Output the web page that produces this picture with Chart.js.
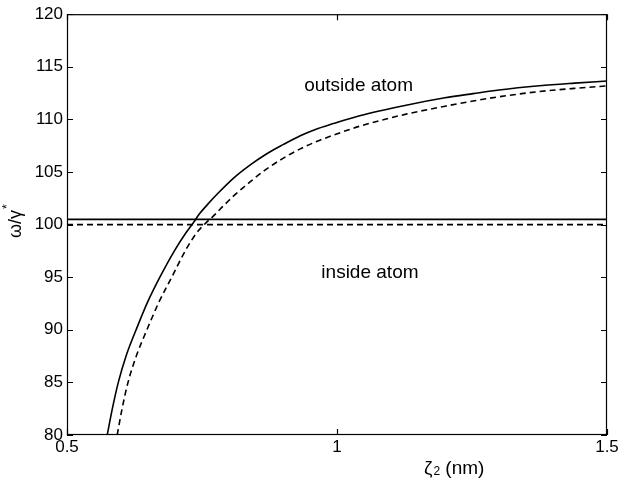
<!DOCTYPE html>
<html>
<head>
<meta charset="utf-8">
<script src="https://cdn.jsdelivr.net/npm/chart.js@4/dist/chart.umd.min.js"></script>
<style>
html,body{margin:0;padding:0;background:#fff;}
#wrap{width:632px;height:484px;position:relative;}
</style>
</head>
<body>
<div id="wrap"><canvas id="c" width="632" height="484"></canvas></div>
<script>
// ---- data ----
const solidX = [0.5745, 0.584, 0.595, 0.61, 0.628, 0.649, 0.672, 0.70, 0.72, 0.733, 0.745, 0.76, 0.78, 0.808, 0.84, 0.87, 0.90, 0.932, 0.96, 0.993, 1.042, 1.128, 1.2, 1.252, 1.3, 1.375, 1.44, 1.5];
const solidY = [80, 82.5, 85, 87.6, 90, 92.6, 95, 97.6, 99.2, 100.1, 101.0, 101.9, 103.0, 104.4, 105.7, 106.74, 107.6, 108.45, 109.05, 109.6, 110.35, 111.35, 112.05, 112.45, 112.8, 113.2, 113.45, 113.65];
const dashedX = [0.593, 0.602, 0.613, 0.629, 0.648, 0.67, 0.694, 0.72, 0.74, 0.755, 0.771, 0.79, 0.808, 0.84, 0.87, 0.90, 0.932, 0.96, 0.993, 1.042, 1.128, 1.2, 1.252, 1.3, 1.375, 1.44, 1.5];
const dashedY = [80, 82.5, 85, 87.6, 90, 92.6, 95, 97.6, 99.2, 100.05, 100.8, 101.8, 102.7, 104.1, 105.3, 106.3, 107.2, 107.85, 108.5, 109.35, 110.5, 111.25, 111.75, 112.15, 112.65, 112.95, 113.18];
const levelX = [0.5, 1.5];
const solidLevel = [100.5, 100.5];
const dashedLevel = [100, 100];
const xTicks = [0.5, 1, 1.5];
const yTicks = [80, 85, 90, 95, 100, 105, 110, 115, 120];
const annotations = [
  {text: 'outside atom', x: 1.04, y: 113.2},
  {text: 'inside atom', x: 1.061, y: 95.4}
];
const xTitle = {main: 'ζ', sub: '2', rest: ' (nm)'};
const yTitle = {main: 'ω/γ', sup: '*'};

const FONT = "'Liberation Sans', Arial, Helvetica, sans-serif";
const pts = (xs, ys) => xs.map((x, i) => ({x: x, y: ys[i]}));

const framePlugin = {
  id: 'frame',
  afterDatasetsDraw(chart) {
    const ctx = chart.ctx, a = chart.chartArea;
    const xs = chart.scales.x, ys = chart.scales.y;
    ctx.save();
    ctx.strokeStyle = '#000';
    ctx.lineWidth = 1.2;
    ctx.strokeRect(a.left + 0.5, a.top + 0.5, a.right - a.left - 1, a.bottom - a.top - 1);
    const L = 6;
    ctx.beginPath();
    xTicks.forEach(v => {
      const p = Math.round(xs.getPixelForValue(v)) + 0.5;
      ctx.moveTo(p, a.bottom); ctx.lineTo(p, a.bottom - L);
      ctx.moveTo(p, a.top); ctx.lineTo(p, a.top + L);
    });
    yTicks.forEach(v => {
      const p = Math.round(ys.getPixelForValue(v)) + 0.5;
      ctx.moveTo(a.left, p); ctx.lineTo(a.left + L, p);
      ctx.moveTo(a.right, p); ctx.lineTo(a.right - L, p);
    });
    ctx.stroke();
    // annotations
    ctx.fillStyle = '#000';
    ctx.font = '19px ' + FONT;
    ctx.textAlign = 'center';
    ctx.textBaseline = 'middle';
    annotations.forEach(t => {
      ctx.fillText(t.text, xs.getPixelForValue(t.x), ys.getPixelForValue(t.y));
    });
    // x title
    ctx.textAlign = 'left';
    ctx.textBaseline = 'alphabetic';
    let x0 = 424, base = 474;
    ctx.font = '19px ' + FONT;
    ctx.fillText(xTitle.main, x0, base);
    x0 += ctx.measureText(xTitle.main).width + 1;
    ctx.font = '12px ' + FONT;
    ctx.fillText(xTitle.sub, x0, base + 1);
    x0 += ctx.measureText(xTitle.sub).width;
    ctx.font = '19px ' + FONT;
    ctx.fillText(xTitle.rest, x0, base);
    // y title
    ctx.translate(21, 224);
    ctx.rotate(-Math.PI / 2);
    ctx.font = '18px ' + FONT;
    const w = ctx.measureText(yTitle.main).width;
    ctx.fillText(yTitle.main, -w / 2, 0);
    ctx.font = '12px ' + FONT;
    ctx.fillText(yTitle.sup, w / 2 + 1, -10);
    ctx.restore();
  }
};

const lineBase = {borderColor: '#000', borderWidth: 1.6, pointRadius: 0, fill: false, cubicInterpolationMode: 'monotone'};

new Chart(document.getElementById('c'), {
  type: 'line',
  data: {
    datasets: [
      Object.assign({label: 'solid curve', data: pts(solidX, solidY)}, lineBase),
      Object.assign({label: 'dashed curve', data: pts(dashedX, dashedY), borderDash: [6, 4]}, lineBase),
      Object.assign({label: 'solid level', data: pts(levelX, solidLevel)}, lineBase),
      Object.assign({label: 'dashed level', data: pts(levelX, dashedLevel), borderDash: [6, 4]}, lineBase)
    ]
  },
  options: {
    responsive: false,
    animation: false,
    devicePixelRatio: 1,
    layout: {padding: {left: 0, right: 25, top: 14, bottom: 0}},
    plugins: {legend: {display: false}, tooltip: {enabled: false}},
    scales: {
      x: {
        type: 'linear', min: 0.5, max: 1.5,
        afterBuildTicks: s => { s.ticks = xTicks.map(v => ({value: v})); },
        afterFit: s => { s.height = 49; },
        grid: {display: false, drawTicks: false},
        border: {display: false},
        ticks: {color: '#000', font: {family: FONT, size: 17}, padding: 2, maxRotation: 0, autoSkip: false,
                callback: v => String(v)}
      },
      y: {
        type: 'linear', min: 80, max: 120,
        afterBuildTicks: s => { s.ticks = yTicks.map(v => ({value: v})); },
        afterFit: s => { s.width = 67; },
        grid: {display: false, drawTicks: false},
        border: {display: false},
        ticks: {color: '#000', font: {family: FONT, size: 17}, padding: 4, autoSkip: false,
                callback: v => String(v)}
      }
    }
  },
  plugins: [framePlugin]
});
</script>
</body>
</html>
